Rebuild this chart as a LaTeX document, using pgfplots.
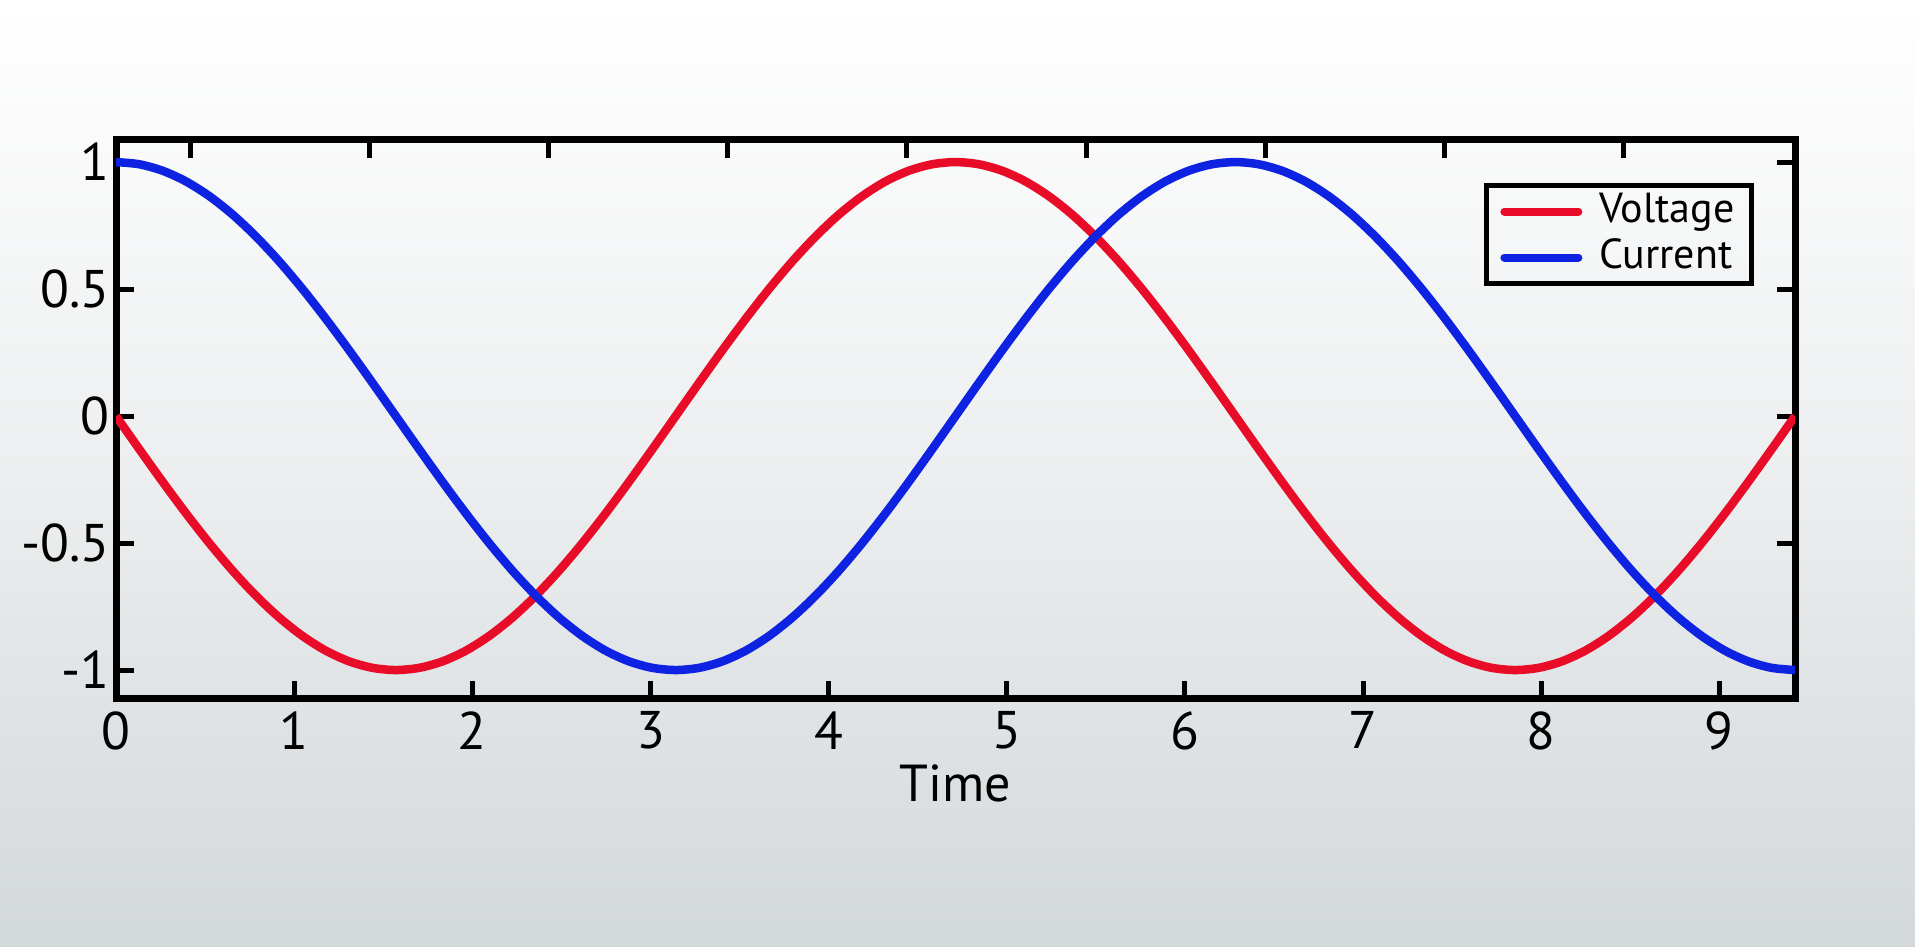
\documentclass[border=0pt]{standalone}
\usepackage{pgfplots}
\usepackage{pgfplotstable}
\pgfplotsset{compat=1.18}
\usepackage{fontspec}
\setmainfont{PT Sans}
\definecolor{vred}{RGB}{232,12,40}
\definecolor{cblue}{RGB}{14,34,226}
\definecolor{bgbot}{RGB}{211,216,219}

\pgfplotstableread{
t V C
0.0000 0 1
0.1309 -0.1305 0.9914
0.2618 -0.2588 0.9659
0.3927 -0.3827 0.9239
0.5236 -0.5 0.8660
0.6545 -0.6088 0.7934
0.7854 -0.7071 0.7071
0.9163 -0.7934 0.6088
1.0472 -0.8660 0.5
1.1781 -0.9239 0.3827
1.3090 -0.9659 0.2588
1.4399 -0.9914 0.1305
1.5708 -1 0
1.7017 -0.9914 -0.1305
1.8326 -0.9659 -0.2588
1.9635 -0.9239 -0.3827
2.0944 -0.8660 -0.5
2.2253 -0.7934 -0.6088
2.3562 -0.7071 -0.7071
2.4871 -0.6088 -0.7934
2.6180 -0.5 -0.8660
2.7489 -0.3827 -0.9239
2.8798 -0.2588 -0.9659
3.0107 -0.1305 -0.9914
3.1416 0 -1
3.2725 0.1305 -0.9914
3.4034 0.2588 -0.9659
3.5343 0.3827 -0.9239
3.6652 0.5 -0.8660
3.7961 0.6088 -0.7934
3.9270 0.7071 -0.7071
4.0579 0.7934 -0.6088
4.1888 0.8660 -0.5
4.3197 0.9239 -0.3827
4.4506 0.9659 -0.2588
4.5815 0.9914 -0.1305
4.7124 1 0
4.8433 0.9914 0.1305
4.9742 0.9659 0.2588
5.1051 0.9239 0.3827
5.2360 0.8660 0.5
5.3669 0.7934 0.6088
5.4978 0.7071 0.7071
5.6287 0.6088 0.7934
5.7596 0.5 0.8660
5.8905 0.3827 0.9239
6.0214 0.2588 0.9659
6.1523 0.1305 0.9914
6.2832 0 1
6.4141 -0.1305 0.9914
6.5450 -0.2588 0.9659
6.6759 -0.3827 0.9239
6.8068 -0.5 0.8660
6.9377 -0.6088 0.7934
7.0686 -0.7071 0.7071
7.1995 -0.7934 0.6088
7.3304 -0.8660 0.5
7.4613 -0.9239 0.3827
7.5922 -0.9659 0.2588
7.7231 -0.9914 0.1305
7.8540 -1 0
7.9849 -0.9914 -0.1305
8.1158 -0.9659 -0.2588
8.2467 -0.9239 -0.3827
8.3776 -0.8660 -0.5
8.5085 -0.7934 -0.6088
8.6394 -0.7071 -0.7071
8.7703 -0.6088 -0.7934
8.9012 -0.5 -0.8660
9.0321 -0.3827 -0.9239
9.1630 -0.2588 -0.9659
9.2939 -0.1305 -0.9914
9.4248 0 -1
}\datatable

\begin{document}
\begin{tikzpicture}
\shade[top color=white, bottom color=bgbot, middle color={rgb,255:red,236;green,238;blue,239}] (0pt,0pt) rectangle (1915pt,947pt);
\begin{axis}[
  at={(116pt,248pt)}, anchor=south west,
  scale only axis, width=1679pt, height=559pt,
  xmin=0, xmax=9.4248, ymin=-1.114, ymax=1.087,
  axis line style={line width=7pt, black},
  tick align=inside,
  major tick length=18pt,
  every tick/.style={line width=5pt, black},
  xtick={0,1,2,3,4,5,6,7,8,9},
  xticklabels={0,1,2,3,4,5,6,7,8,9},
  xtick pos=left,
  ytick={-1,-0.5,0,0.5,1},
  yticklabels={-1,-0.5,0,0.5,1},
  ytick pos=both,
  yticklabel pos=left,
  ticklabel style={font=\fontsize{53}{60}\selectfont, text=black},
  xticklabel style={yshift=-9pt},
  yticklabel style={xshift=-3pt},
  xlabel={Time},
  xlabel style={font=\fontsize{52}{60}\selectfont, yshift=-8pt},
  legend style={at={(0.9756,0.923)}, anchor=north east, draw=black, line width=5pt, fill=none,
    font=\fontsize{42}{46}\selectfont, inner xsep=14pt, inner ysep=3pt,
    row sep=0pt,
    nodes={inner sep=3pt, text height=31pt, text depth=9pt},
    /tikz/every odd column/.append style={column sep=14pt}},
  legend cell align=left,
  legend image code/.code={\draw[#1, line width=8pt, line cap=round] (0pt,0pt) -- (74pt,0pt);},
]
\addplot[vred, line width=8.5pt, line join=round, smooth] table[x=t, y=V] {\datatable};
\addlegendentry{Voltage}
\addplot[cblue, line width=8.5pt, line join=round, smooth] table[x=t, y=C] {\datatable};
\addlegendentry{Current}
\end{axis}
\begin{axis}[
  at={(116pt,248pt)}, anchor=south west,
  scale only axis, width=1679pt, height=559pt,
  xmin=0, xmax=9.4248, ymin=-1.114, ymax=1.087,
  axis line style={draw=none},
  tick align=inside,
  major tick length=18pt,
  every tick/.style={line width=5pt, black},
  xtick={0.42,1.425,2.43,3.435,4.44,5.445,6.45,7.455,8.46},
  xticklabels={},
  xtick pos=right,
  ytick=\empty,
]
\end{axis}
\pgfresetboundingbox
\useasboundingbox (0pt,0pt) rectangle (1915pt,947pt);
\end{tikzpicture}
\end{document}
